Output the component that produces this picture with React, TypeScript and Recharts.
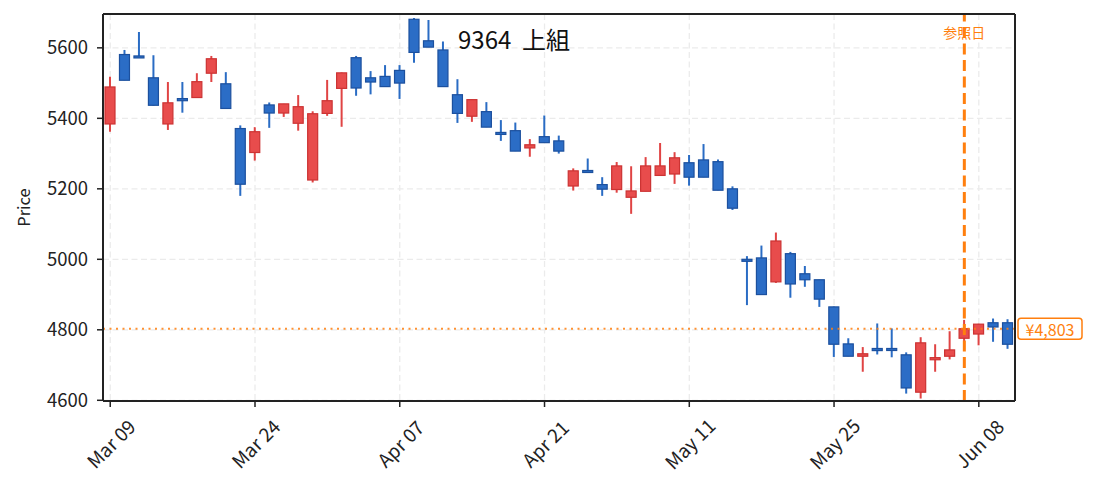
import { Bar, CartesianGrid, ComposedChart, ReferenceLine, XAxis, YAxis } from 'recharts';

const dates = [
  'Mar 09', 'Mar 10', 'Mar 11', 'Mar 12', 'Mar 13', 'Mar 16', 'Mar 17', 'Mar 18', 'Mar 19', 'Mar 23',
  'Mar 24', 'Mar 25', 'Mar 26', 'Mar 27', 'Mar 30', 'Mar 31', 'Apr 01', 'Apr 02', 'Apr 03', 'Apr 06',
  'Apr 07', 'Apr 08', 'Apr 09', 'Apr 10', 'Apr 13', 'Apr 14', 'Apr 15', 'Apr 16', 'Apr 17', 'Apr 20',
  'Apr 21', 'Apr 22', 'Apr 23', 'Apr 24', 'Apr 27', 'Apr 28', 'Apr 30', 'May 01', 'May 07', 'May 08',
  'May 11', 'May 12', 'May 13', 'May 14', 'May 15', 'May 18', 'May 19', 'May 20', 'May 21', 'May 22',
  'May 25', 'May 26', 'May 27', 'May 28', 'May 29', 'Jun 01', 'Jun 02', 'Jun 03', 'Jun 04', 'Jun 05',
  'Jun 08', 'Jun 09', 'Jun 10'
];

const opens = [
  5384, 5581, 5577, 5515, 5384, 5456, 5459, 5528, 5498, 5371,
  5303, 5438, 5415, 5386, 5225, 5414, 5485, 5572, 5515, 5519,
  5536, 5681, 5620, 5594, 5467, 5406, 5419, 5360, 5365, 5316,
  5348, 5336, 5208, 5252, 5212, 5198, 5176, 5193, 5238, 5242,
  5274, 5282, 5277, 5200, 5000, 5004, 4936, 5016, 4959, 4942,
  4865, 4760, 4725, 4747, 4747, 4729, 4623, 4715, 4725, 4776,
  4788, 4820, 4820
];

const highs = [
  5518, 5594, 5645, 5579, 5503, 5503, 5528, 5577, 5531, 5380,
  5375, 5445, 5441, 5466, 5420, 5509, 5530, 5577, 5534, 5551,
  5551, 5685, 5679, 5618, 5511, 5453, 5446, 5395, 5388, 5341,
  5408, 5351, 5258, 5286, 5233, 5276, 5264, 5290, 5330, 5304,
  5296, 5327, 5283, 5207, 5009, 5039, 5076, 5021, 4981, 4942,
  4866, 4776, 4751, 4818, 4804, 4736, 4779, 4759, 4796, 4828,
  4817, 4832, 4830
];

const lows = [
  5362, 5508, 5573, 5436, 5367, 5416, 5458, 5503, 5428, 5180,
  5280, 5373, 5404, 5365, 5218, 5407, 5376, 5464, 5468, 5490,
  5455, 5558, 5602, 5490, 5387, 5390, 5375, 5336, 5307, 5291,
  5331, 5300, 5195, 5250, 5180, 5189, 5129, 5193, 5238, 5214,
  5209, 5233, 5196, 5140, 4870, 4900, 4933, 4891, 4922, 4865,
  4723, 4725, 4681, 4730, 4722, 4619, 4605, 4681, 4716, 4744,
  4756, 4766, 4746
];

const closes = [
  5489, 5508, 5574, 5437, 5444, 5450, 5504, 5569, 5428, 5213,
  5362, 5415, 5441, 5433, 5413, 5450, 5529, 5486, 5503, 5490,
  5500, 5587, 5602, 5490, 5414, 5453, 5375, 5357, 5307, 5325,
  5331, 5307, 5251, 5250, 5199, 5265, 5194, 5265, 5265, 5288,
  5233, 5233, 5196, 5145, 4997, 4900, 5052, 4930, 4942, 4887,
  4759, 4725, 4732, 4741, 4742, 4635, 4763, 4721, 4743, 4803,
  4816, 4808, 4759
];

const priceTicks = [4600, 4800, 5000, 5200, 5400, 5600];
const refDate = 'Jun 05';
const refPrice = 4803;
const title = '9364  上組';

const rows = dates.map((date, i) => ({
  date,
  open: opens[i],
  high: highs[i],
  low: lows[i],
  close: closes[i]
}));

const FONT = '"Noto Sans CJK JP", "Noto Sans", sans-serif';
const ORANGE = '#ff7f0e';
const AXIS = '#222222';

function Candle(props: any) {
  const { x, y, width, height, payload } = props;
  const { open, close, high, low } = payload;
  const top = Math.min(y, y + height);
  const h = Math.abs(height);
  const k = high > low ? h / (high - low) : 0;
  const py = (v: number) => top + (high - v) * k;
  const up = close >= open;
  const cx = x + width / 2;
  const bodyTop = py(Math.max(open, close));
  const bodyH = Math.max(py(Math.min(open, close)) - bodyTop, 2);

  return (
    <g>
      <line x1={cx} x2={cx} y1={top} y2={top + h} stroke={up ? '#e04444' : '#2a6cc4'} strokeWidth={2} />
      <rect
        x={x}
        y={bodyTop}
        width={width}
        height={bodyH}
        fill={up ? '#e84c4c' : '#2b6dc6'}
        stroke={up ? '#cc3333' : '#1c509e'}
        strokeWidth={1.2}
      />
    </g>
  );
}

function DateTick({ x, y, payload }: any) {
  const cy = y + 34;
  return (
    <text
      x={x}
      y={cy}
      transform={`rotate(-45 ${x} ${cy})`}
      textAnchor="middle"
      dominantBaseline="central"
      fontSize={19}
      fill={AXIS}
    >
      {payload.value}
    </text>
  );
}

function PriceTag({ viewBox }: any) {
  if (!viewBox) return null;
  const x = viewBox.x + viewBox.width + 3;
  const y = viewBox.y;
  return (
    <g>
      <rect x={x} y={y - 10.5} width={64} height={21} rx={3} fill="#ffffff" stroke={ORANGE} strokeWidth={1.5} />
      <text x={x + 32} y={y} textAnchor="middle" dominantBaseline="central" fontSize={16} fill={ORANGE}>
        ¥{refPrice.toLocaleString('en-US')}
      </text>
    </g>
  );
}

export default function App() {
  return (
    <div style={{ position: 'absolute', left: 0, top: 0, width: 1093, height: 491, fontFamily: FONT, background: '#fff' }}>
      <ComposedChart width={1093} height={491} data={rows} margin={{ top: 13, right: 77, bottom: 0, left: 0 }}>
        <CartesianGrid stroke="#ebebeb" strokeDasharray="6 3.5" strokeWidth={1.3} />
        <XAxis
          dataKey="date"
          interval={9}
          height={90}
          tick={<DateTick />}
          tickSize={6}
          tickLine={{ stroke: AXIS, strokeWidth: 1.5 }}
          axisLine={{ stroke: AXIS, strokeWidth: 2 }}
        />
        <XAxis xAxisId="top" orientation="top" dataKey="date" height={1} tick={false} tickLine={false} axisLine={{ stroke: AXIS, strokeWidth: 2 }} />
        <YAxis
          type="number"
          domain={[4598, 5696]}
          ticks={priceTicks}
          allowDataOverflow
          width={103}
          tickSize={6}
          tickMargin={9}
          tick={{ fontSize: 18.5, fill: AXIS }}
          tickLine={{ stroke: AXIS, strokeWidth: 1.5 }}
          axisLine={{ stroke: AXIS, strokeWidth: 2 }}
          label={{ value: 'Price', angle: -90, position: 'insideLeft', offset: 24, fontSize: 16.5, fill: AXIS, style: { textAnchor: 'middle' } }}
        />
        <YAxis yAxisId="right" orientation="right" type="number" domain={[0, 1]} width={1} tick={false} tickLine={false} axisLine={{ stroke: AXIS, strokeWidth: 2 }} />
        <Bar
          dataKey={(d: any) => [d.low, d.high]}
          barSize={10}
          shape={<Candle />}
          isAnimationActive={false}
        />
        <ReferenceLine
          y={refPrice}
          stroke={ORANGE}
          strokeWidth={2}
          strokeDasharray="2 4.5"
          strokeOpacity={0.85}
          label={<PriceTag />}
        />
        <ReferenceLine
          x={refDate}
          stroke={ORANGE}
          strokeWidth={3}
          strokeDasharray="11 5.5"
          label={{ value: '参照日', position: 'insideTop', offset: 14, fontSize: 14, fill: ORANGE }}
        />
      </ComposedChart>
      <div style={{ position: 'absolute', left: 458, top: 25, fontSize: 24, lineHeight: '28px', whiteSpace: 'pre', color: '#111' }}>
        {title}
      </div>
    </div>
  );
}
